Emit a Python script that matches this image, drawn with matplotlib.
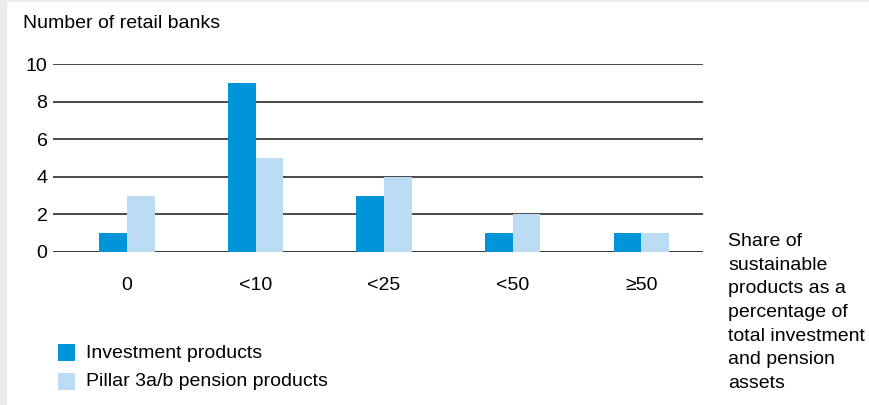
import matplotlib
matplotlib.use("Agg")
import matplotlib.pyplot as plt
from matplotlib.patches import Rectangle

plt.rcParams['font.family'] = ['Liberation Sans', 'DejaVu Sans']

categories = ["0", "<10", "<25", "<50", "≥50"]
investment = [1, 9, 3, 1, 1]
pension = [3, 5, 4, 2, 1]
series_names = ["Investment products", "Pillar 3a/b pension products"]
yticks = [0, 2, 4, 6, 8, 10]

W, H = 869, 405
fs = 14
fig = plt.figure(figsize=(W / 100, H / 100), dpi=100, facecolor="#ebebeb")
fig.patches.append(Rectangle((7 / W, 0), 1 - 7 / W, 1 - 2 / H, transform=fig.transFigure,
                             facecolor="white", edgecolor="none", zorder=-10))

ax = fig.add_axes([53 / W, 1 - 252 / H, (703 - 53) / W, (252 - 64) / H])
ax.set_facecolor("none")

c1, c2 = "#0094d9", "#bcdcf3"
bw = 0.215
x = list(range(len(categories)))
ax.bar([i - bw / 2 for i in x], investment, width=bw, color=c1, zorder=3)
ax.bar([i + bw / 2 for i in x], pension, width=bw, color=c2, zorder=3)

ax.set_xlim(-0.575, 4.48)
ax.set_ylim(0, 10)
for t in yticks:
    ax.axhline(t, color="black" if t == 0 else "#3a3a3a", lw=1.1 if t == 0 else 1.3, zorder=1)
ax.set_yticks(yticks)
ax.set_yticklabels([str(t) for t in yticks], fontsize=fs)
ax.set_xticks(x)
ax.set_xticklabels(categories, fontsize=fs)
ax.tick_params(axis="both", length=0)
ax.tick_params(axis="x", pad=18)
ax.tick_params(axis="y", pad=4)
for s in ax.spines.values():
    s.set_visible(False)

fig.text(23 / W, 1 - 24 / H, "Number of retail banks", fontsize=fs, va="center", ha="left")
fig.text(728 / W, 1 - 233 / H,
         "Share of\nsustainable\nproducts as a\npercentage of\ntotal investment\nand pension\nassets",
         fontsize=fs, va="top", ha="left", linespacing=1.51)

# legend
for i, (name, col) in enumerate(zip(series_names, [c1, c2])):
    yc = 353 + i * 29
    fig.patches.append(Rectangle((58 / W, 1 - (yc + 8) / H), 17 / W, 17 / H,
                                 transform=fig.transFigure, facecolor=col, edgecolor="none"))
    fig.text(86 / W, 1 - yc / H, name, fontsize=fs, va="center", ha="left")

fig.savefig("out.png", dpi=100, facecolor=fig.get_facecolor())
